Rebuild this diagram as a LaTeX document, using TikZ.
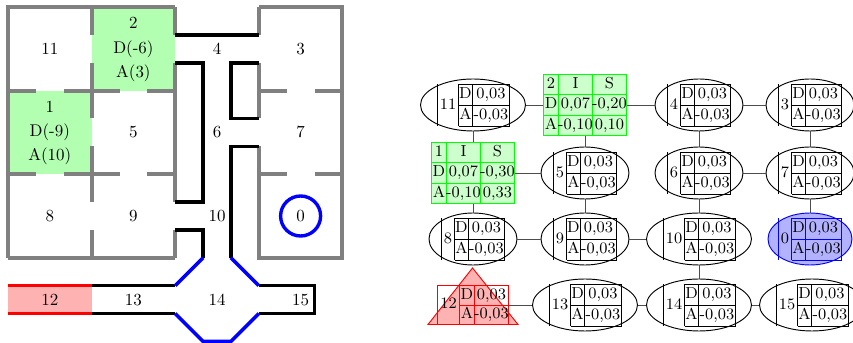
\documentclass[tikz,border=0pt]{standalone}
\usetikzlibrary{shapes.geometric,calc}
\tikzset{
  wallg/.style={draw=gray, line width=2.36pt},
  wallb/.style={draw=black, line width=2.1pt},
  wallblue/.style={draw=blue, line width=2.1pt},
  wallred/.style={draw=red, line width=2.1pt},
  lbl/.style={inner sep=0pt, font=\normalsize},
  cell/.style={inner sep=0pt, font=\fontsize{9.4}{11}\selectfont, text height=6.4pt, text depth=1.8pt},
  link/.style={draw=black!70, line width=0.5pt},
  rule/.style={line width=0.59pt},
  pics/etab/.style n args={6}{code={
    \pgfmathsetmacro\tL{round(-(#3+#4+14)/2)+0.5}
    \pgfmathsetmacro\tA{\tL+#3}
    \pgfmathsetmacro\tB{\tA+14}
    \pgfmathsetmacro\tR{\tB+#4}
    \node[ellipse, draw=#2, fill=#6, line width=0.55pt, minimum width=#5*0.59pt, minimum height=52*0.59pt, inner sep=0pt] (-e) {};
    \draw[#2, rule] (\tL,-20.5) -- (\tL,21.5) (\tA,-20.5) -- (\tA,21.5) (\tB,-20.5) -- (\tB,21.5) (\tR,-20.5) -- (\tR,21.5)
      (\tA,-20.5) -- (\tR,-20.5) (\tA,0.5) -- (\tR,0.5) (\tA,21.5) -- (\tR,21.5);
    \node[cell] (-n) at ({(\tL+\tA)/2},0.5) {#1};
    \node[cell] (-d) at ({(\tA+\tB)/2},-10) {D};
    \node[cell] (-a) at ({(\tA+\tB)/2},11) {A};
    \node[cell] (-dv) at ({(\tB+\tR)/2},-10) {0,03};
    \node[cell] (-av) at ({(\tB+\tR)/2},11) {-0,03};
  }},
  pics/gtab/.style n args={5}{code={
    \node[draw=green, fill=green!20, rule, minimum width=83*0.59pt, minimum height=61*0.59pt, inner sep=0pt] (-r) {};
    \draw[green, rule] (-26.5,-30.5) -- (-26.5,30.5) (7.5,-30.5) -- (7.5,30.5) (-41.5,-10.5) -- (41.5,-10.5) (-41.5,10.5) -- (41.5,10.5);
    \node[cell] (-c11) at (-34,-20.5) {#1};
    \node[cell] (-c12) at (-9.5,-20.5) {I};
    \node[cell] (-c13) at (24.5,-20.5) {S};
    \node[cell] (-c21) at (-34,0) {D};
    \node[cell] (-c22) at (-9.5,0) {#2};
    \node[cell] (-c23) at (24.5,0) {#3};
    \node[cell] (-c31) at (-34,20.5) {A};
    \node[cell] (-c32) at (-9.5,20.5) {#4};
    \node[cell] (-c33) at (24.5,20.5) {#5};
  }},
}
\begin{document}
\begin{tikzpicture}[x=0.59pt, y=-0.59pt]
\useasboundingbox (0,0) rectangle (853,343);
% ---------- map ----------
\fill[green!30] (91.6,7) rectangle (175.2,90.6);
\fill[green!30] (8,90.6) rectangle (91.6,174.2);
\fill[red!30] (8,285.7) rectangle (91.6,313.5);
% gray walls
\draw[wallg] (8,257.8) -- (8,7) -- (175.2,7);
\draw[wallg] (8,257.8) -- (175.2,257.8);
\draw[wallg] (258.8,7) -- (342.4,7) -- (342.4,257.8) -- (258.8,257.8) -- (258.8,146.3);
\draw[wallg] (175.2,7) -- (175.2,34.9);
\draw[wallg] (175.2,62.9) -- (175.2,202.1);
\draw[wallg] (175.2,229.9) -- (175.2,257.8);
\draw[wallg] (258.8,7) -- (258.8,34.9);
\draw[wallg] (258.8,62.9) -- (258.8,118.5);
\draw[wallg] (91.6,7) -- (91.6,34.9);
\draw[wallg] (91.6,62.9) -- (91.6,118.5);
\draw[wallg] (91.6,146.3) -- (91.6,202.1);
\draw[wallg] (91.6,229.9) -- (91.6,257.8);
\foreach \yy in {90.6,174.2}{
  \draw[wallg] (8,\yy) -- (35.9,\yy);
  \draw[wallg] (63.7,\yy) -- (119.5,\yy);
  \draw[wallg] (147.3,\yy) -- (175.2,\yy);
  \draw[wallg] (258.8,\yy) -- (286.7,\yy);
  \draw[wallg] (314.5,\yy) -- (342.4,\yy);
}
% black walls
\draw[wallb] (175.2,34.9) -- (258.8,34.9);
\draw[wallb] (175.2,62.9) -- (203.1,62.9) -- (203.1,202.1) -- (175.2,202.1);
\draw[wallb] (258.8,62.9) -- (230.9,62.9) -- (230.9,118.5) -- (258.8,118.5);
\draw[wallb] (258.8,146.3) -- (230.9,146.3) -- (230.9,257.8);
\draw[wallb] (175.2,229.9) -- (203.1,229.9) -- (203.1,257.8);
\draw[wallb] (91.6,285.7) -- (175.2,285.7);
\draw[wallb] (91.6,313.5) -- (175.2,313.5);
\draw[wallb] (258.8,285.7) -- (314.5,285.7) -- (314.5,313.5) -- (258.8,313.5);
% blue walls
\draw[wallblue] (203.1,257.8) -- (175.2,285.7);
\draw[wallblue] (230.9,257.8) -- (258.8,285.7);
\draw[wallblue] (175.2,313.5) -- (203.1,341.4) -- (230.9,341.4) -- (258.8,313.5);
% red walls
\draw[wallred] (8,285.7) -- (91.6,285.7);
\draw[wallred] (8,313.5) -- (91.6,313.5);
% goal circle
\draw[blue, line width=2pt] (300.6,216) circle[radius=20*0.59pt];
% labels
\node[lbl] (m11) at (49.8,48.8) {11};
\node[lbl] (m2) at (133.4,22.8) {2};
\node[lbl] (m2d) at (133.4,48.8) {D(-6)};
\node[lbl] (m2a) at (133.4,72.8) {A(3)};
\node[lbl] (m4) at (217,48.8) {4};
\node[lbl] (m3) at (300.6,48.8) {3};
\node[lbl] (m1) at (49.8,106.4) {1};
\node[lbl] (m1d) at (49.8,132.4) {D(-9)};
\node[lbl] (m1a) at (49.8,156.4) {A(10)};
\node[lbl] (m5) at (133.4,132.4) {5};
\node[lbl] (m6) at (217,132.4) {6};
\node[lbl] (m7) at (300.6,132.4) {7};
\node[lbl] (m8) at (49.8,216) {8};
\node[lbl] (m9) at (133.4,216) {9};
\node[lbl] (m10) at (217,216) {10};
\node[lbl] (m0) at (300.6,216) {0};
\node[lbl] (m12) at (49.8,299.6) {12};
\node[lbl] (m13) at (133.4,299.6) {13};
\node[lbl] (m14) at (217,299.6) {14};
\node[lbl] (m15) at (300.6,299.6) {15};
% ---------- graph ----------
\pic (n11) at (473,105) {etab={11}{black}{21}{37}{105}{white}};
\pic (n2) at (585,105) {gtab={2}{0,07}{-0,20}{-0,10}{0,10}};
\pic (n4) at (699,105) {etab={4}{black}{13}{36}{88}{white}};
\pic (n3) at (810,105) {etab={3}{black}{13}{36}{88}{white}};
\pic (n1) at (473,173) {gtab={1}{0,07}{-0,30}{-0,10}{0,33}};
\pic (n5) at (585,173) {etab={5}{black}{13}{36}{88}{white}};
\pic (n6) at (699,173) {etab={6}{black}{13}{36}{88}{white}};
\pic (n7) at (810,173) {etab={7}{black}{13}{36}{88}{white}};
\pic (n8) at (473,239) {etab={8}{black}{13}{36}{88}{white}};
\pic (n9) at (585,239) {etab={9}{black}{13}{36}{88}{white}};
\pic (n10) at (699,239) {etab={10}{black}{21}{37}{105}{white}};
\pic (n0) at (810,239) {etab={0}{blue}{13}{36}{84}{blue!30}};
\pic (n13) at (585,305) {etab={13}{black}{21}{37}{105}{white}};
\pic (n14) at (699,305) {etab={14}{black}{21}{37}{105}{white}};
\pic (n15) at (812,305) {etab={15}{black}{21}{37}{105}{white}};
% node 12
\path[fill=red!30, draw=red, line width=0.55pt] (428,324.5) -- (518,324.5) -- (472.5,268) -- cycle;
\node[draw=red, rule, minimum width=71*0.59pt, minimum height=39*0.59pt, inner sep=0pt] (n12) at (473,305) {};
\draw[red, rule] (459.5,285.5) -- (459.5,324.5) (474.5,285.5) -- (474.5,324.5) (459.5,305.5) -- (508.5,305.5);
\node[cell] (n12-n) at (448.5,305) {12};
\node[cell] (n12-d) at (467,295.5) {D};
\node[cell] (n12-a) at (467,315) {A};
\node[cell] (n12-dv) at (491.5,295.5) {0,03};
\node[cell] (n12-av) at (491.5,315) {-0,03};
% links
\draw[link] (n11-e) -- (n2-r);
\draw[link] (n2-r) -- (n4-e);
\draw[link] (n4-e) -- (n3-e);
\draw[link] (n11-e) -- (n1-r);
\draw[link] (n2-r) -- (n5-e);
\draw[link] (n4-e) -- (n6-e);
\draw[link] (n3-e) -- (n7-e);
\draw[link] (n1-r) -- (n5-e);
\draw[link] (n6-e) -- (n7-e);
\draw[link] (n1-r) -- (n8-e);
\draw[link] (n5-e) -- (n9-e);
\draw[link] (n6-e) -- (n10-e);
\draw[link] (n7-e) -- (n0-e);
\draw[link] (n8-e) -- (n9-e);
\draw[link] (n9-e) -- (n10-e);
\draw[link] (n10-e) -- (n14-e);
\draw[link] (n12) -- (n13-e);
\draw[link] (n13-e) -- (n14-e);
\draw[link] (n14-e) -- (n15-e);
\end{tikzpicture}
\end{document}
